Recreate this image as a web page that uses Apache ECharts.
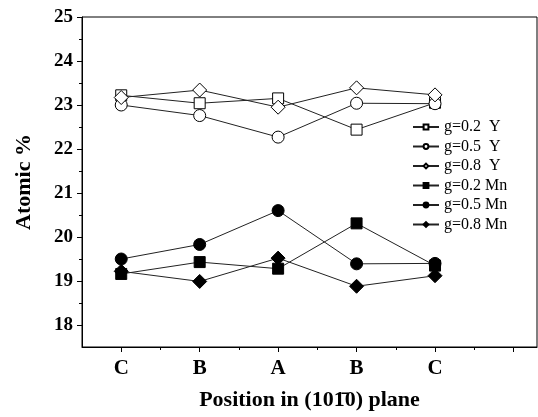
<!DOCTYPE html>
<html>
<head>
<meta charset="utf-8">
<script src="https://cdn.jsdelivr.net/npm/echarts@6/dist/echarts.min.js"></script>
<style>
  html, body { margin: 0; padding: 0; background: #fff; }
  #chart { width: 538px; height: 417px; }
</style>
</head>
<body>
<div id="chart"></div>
<script>
// positions along the plane
const positions = [1, 2, 3, 4, 5];
const positionLabels = ["C", "B", "A", "B", "C"];

const y02 = [23.22, 23.04, 23.15, 22.44, 23.05];
const y05 = [23.0, 22.76, 22.27, 23.04, 23.03];
const y08 = [23.17, 23.34, 22.95, 23.39, 23.23];
const mn02 = [19.16, 19.43, 19.28, 20.31, 19.35];
const mn05 = [19.5, 19.83, 20.6, 19.39, 19.4];
const mn08 = [19.22, 18.99, 19.52, 18.88, 19.12];

const seriesNames = ["g=0.2  Y", "g=0.5  Y", "g=0.8  Y", "g=0.2 Mn", "g=0.5 Mn", "g=0.8 Mn"];
const yTicks = [18, 19, 20, 21, 22, 23, 24, 25];
const yMinorTicks = [18.5, 19.5, 20.5, 21.5, 22.5, 23.5, 24.5];
const xTicks = [1, 2, 3, 4, 5, 6];
const xMinorTicks = [1.5, 2.5, 3.5, 4.5, 5.5];

const serif = "'Liberation Serif', 'DejaVu Serif', serif";

const makeSeries = (name, values, symbol, size, open) => ({
  name,
  type: "line",
  data: values.map((v, i) => [positions[i], v]),
  symbol,
  symbolSize: size,
  showAllSymbol: true,
  lineStyle: { color: "#222", width: 1 },
  itemStyle: open
    ? { color: "#fff", borderColor: "#000", borderWidth: 1 }
    : { color: "#000", borderColor: "#000", borderWidth: 1 },
  animation: false,
  z: open ? 3 : 4
});

const chart = echarts.init(document.getElementById("chart"));

chart.setOption({
  backgroundColor: "#fff",
  animation: false,
  grid: {
    left: 82, top: 17, right: 1, bottom: 70,
    show: true, borderColor: "#000", borderWidth: 1
  },
  legend: {
    orient: "vertical",
    left: 407, top: 114,
    itemWidth: 26, itemHeight: 6, itemGap: 3.5,
    textStyle: { fontFamily: serif, fontSize: 16, color: "#000" },
    data: seriesNames
  },
  xAxis: [{
    type: "value",
    min: 0.5, max: 6.3,
    name: "Position in (10\u0031\u03040) plane",
    nameLocation: "middle",
    nameGap: 42,
    nameTextStyle: { fontFamily: serif, fontSize: 22, fontWeight: "bold", color: "#000" },
    axisLine: { show: true, lineStyle: { color: "#000", width: 1 } },
    axisTick: { show: true, length: 5, customValues: xTicks, lineStyle: { color: "#000" } },
    axisLabel: {
      customValues: positions,
      fontFamily: serif, fontSize: 21, fontWeight: "bold", color: "#000", margin: 11,
      formatter: (v) => positionLabels[positions.indexOf(v)] || ""
    },
    splitLine: { show: false }
  }, {
    type: "value",
    position: "bottom",
    min: 0.5, max: 6.3,
    axisLine: { show: false },
    axisTick: { show: true, length: 3, customValues: xMinorTicks, lineStyle: { color: "#000" } },
    axisLabel: { show: false },
    splitLine: { show: false }
  }],
  yAxis: [{
    type: "value",
    min: 17.5, max: 25,
    name: "Atomic %",
    nameLocation: "middle",
    nameRotate: 90,
    nameGap: 47,
    nameTextStyle: { fontFamily: serif, fontSize: 22, fontWeight: "bold", color: "#000" },
    axisLine: { show: true, lineStyle: { color: "#000", width: 1 } },
    axisTick: { show: true, length: 5, customValues: yTicks, lineStyle: { color: "#000" } },
    axisLabel: {
      customValues: yTicks,
      fontFamily: serif, fontSize: 19, fontWeight: "bold", color: "#000", margin: 9
    },
    splitLine: { show: false }
  }, {
    type: "value",
    position: "left",
    min: 17.5, max: 25,
    axisLine: { show: false },
    axisTick: { show: true, length: 3, customValues: yMinorTicks, lineStyle: { color: "#000" } },
    axisLabel: { show: false },
    splitLine: { show: false }
  }],
  series: [
    makeSeries(seriesNames[0], y02, "rect", 11, true),
    makeSeries(seriesNames[1], y05, "circle", 12, true),
    makeSeries(seriesNames[2], y08, "diamond", 14, true),
    makeSeries(seriesNames[3], mn02, "rect", 11, false),
    makeSeries(seriesNames[4], mn05, "circle", 12, false),
    makeSeries(seriesNames[5], mn08, "diamond", 14, false)
  ]
});
</script>
</body>
</html>
